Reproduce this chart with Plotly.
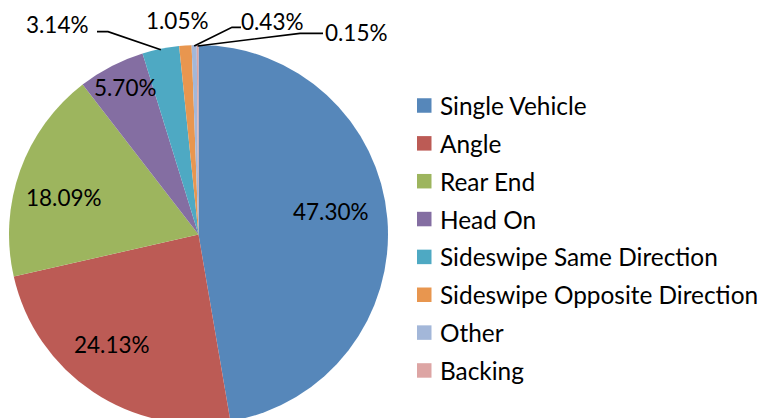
import math
import plotly.graph_objects as go

# ---------------- data ----------------
categories = ["Single Vehicle", "Angle", "Rear End", "Head On",
              "Sideswipe Same Direction", "Sideswipe Opposite Direction",
              "Other", "Backing"]
shares = [47.30, 24.13, 18.09, 5.70, 3.14, 1.05, 0.43, 0.15]
label_texts = [f"{v:.2f}%" for v in shares]

# ---------------- style ----------------
colors = ["#5687BA", "#BC5B55", "#9DB55E", "#846EA2",
          "#4EA9C3", "#E8964F", "#A3B7D9", "#DDA5A4"]
FONT = "Lato"
LABEL_SIZE = 22.5
LEGEND_SIZE = 24.4

W, H = 759, 440          # page is 418 tall; the pie is cut at the bottom like the original
CX, CY, R = 198.5, 234.5, 189.5

# inside labels: radius fraction and small angular nudge (deg) relative to slice middle
inside_style = {0: (0.712, -5.0), 1: (0.738, 4.3), 2: (0.736, -4.5), 3: (0.867, 0.9)}
# outside labels: text centre (px) and leader-line stub points (px)
outside_style = {
    4: dict(xy=(58, 24), stub=[(97, 31.7), (108, 31.7)]),
    5: dict(xy=(177, 20.5), stub=None),
    6: dict(xy=(272, 21), stub=[(241, 27.3), (232, 27.3)]),
    7: dict(xy=(356, 32), stub=[(323, 33.3), (300, 33.3)]),
}


def px(x):
    return x / W


def py(y):
    return (H - y) / H


total = sum(shares)
mid_deg = []
acc = 0.0
for v in shares:
    mid_deg.append((acc + v / 2) / total * 360.0)
    acc += v


def polar(deg, r):
    a = math.radians(deg)
    return CX + r * math.sin(a), CY - r * math.cos(a)


fig = go.Figure(go.Pie(
    labels=categories, values=shares, sort=False,
    direction="clockwise", rotation=0,
    marker=dict(colors=colors, line=dict(width=0)),
    textinfo="none", showlegend=False,
    hovertemplate="%{label}: %{value:.2f}%<extra></extra>",
    domain=dict(x=[px(CX - R), px(CX + R)], y=[py(CY + R), py(CY - R)]),
))

annotations = []
shapes = []

for i, (r_frac, nudge) in inside_style.items():
    x, y = polar(mid_deg[i] + nudge, r_frac * R)
    annotations.append(dict(x=px(x), y=py(y), xref="paper", yref="paper",
                            text=label_texts[i], showarrow=False,
                            xanchor="center", yanchor="middle",
                            font=dict(family=FONT, size=LABEL_SIZE, color="#000000")))

for i, st in outside_style.items():
    x, y = st["xy"]
    annotations.append(dict(x=px(x), y=py(y), xref="paper", yref="paper",
                            text=label_texts[i], showarrow=False,
                            xanchor="center", yanchor="middle",
                            font=dict(family=FONT, size=LABEL_SIZE, color="#000000")))
    if st["stub"]:
        pts = list(st["stub"]) + [polar(mid_deg[i], R - 1)]
        path = "M" + " L".join(f"{px(a):.5f},{py(b):.5f}" for a, b in pts)
        shapes.append(dict(type="path", path=path, xref="paper", yref="paper",
                           line=dict(color="#000000", width=1.7)))

# legend drawn as squares + text
LEG_X0, LEG_Y0, LEG_DY, SQ = 417, 105.5, 37.85, 14.5
for i, cat in enumerate(categories):
    yc = LEG_Y0 + i * LEG_DY
    shapes.append(dict(type="rect", xref="paper", yref="paper",
                       x0=px(LEG_X0), x1=px(LEG_X0 + SQ),
                       y0=py(yc + SQ / 2), y1=py(yc - SQ / 2),
                       fillcolor=colors[i], line=dict(width=0)))
    annotations.append(dict(x=px(LEG_X0 + 21), y=py(yc), xref="paper", yref="paper",
                            text=cat, showarrow=False, xanchor="left", yanchor="middle",
                            font=dict(family=FONT, size=LEGEND_SIZE, color="#000000")))

fig.update_layout(
    width=W, height=H,
    margin=dict(l=0, r=0, t=0, b=0),
    paper_bgcolor="#FFFFFF", plot_bgcolor="#FFFFFF",
    annotations=annotations, shapes=shapes,
    showlegend=False,
)

fig.write_html(
    "out.html",
    config={"displayModeBar": False},
    post_script="document.body.style.margin='0';document.body.style.overflow='hidden';"
                "document.documentElement.style.overflow='hidden';",
)
